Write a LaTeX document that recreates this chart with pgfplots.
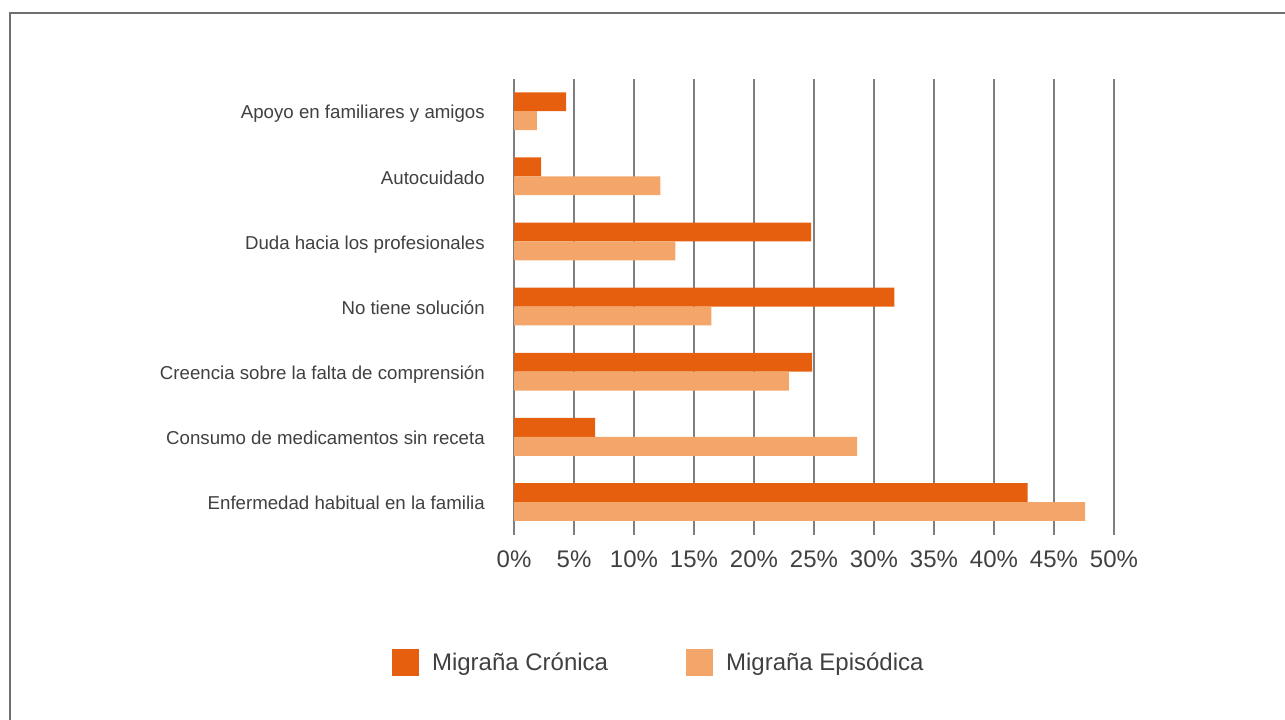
\documentclass[border=0pt]{standalone}
\usepackage{pgfplots}
\pgfplotsset{compat=1.18}
\usepackage{fontspec}
\setmainfont{Liberation Sans}
\definecolor{cronica}{HTML}{E65F0F}
\definecolor{episodica}{HTML}{F4A66A}
\definecolor{txt}{HTML}{404040}
\definecolor{gridc}{HTML}{7F7F7F}
\definecolor{framec}{HTML}{6E6E6E}
\begin{document}
\begin{tikzpicture}
\path[use as bounding box] (0,0) rectangle (963.75pt,-540pt);
\draw[framec, line width=1.1pt] (7.6pt,-545pt) -- (7.6pt,-9.9pt) -- (970pt,-9.9pt);
\begin{axis}[
  at={(385.5pt,-400.95pt)}, anchor=south west,
  scale only axis, width=450pt, height=342pt,
  xmin=0, xmax=50, ymin=-0.5, ymax=6.5,
  xbar, bar width=0.29,
  axis line style={draw=none}, major tick length=0pt, tick style={draw=none},
  xmajorgrids, grid style={gridc, line width=1pt},
  xtick={0,5,...,50},
  xticklabels={0\%,5\%,10\%,15\%,20\%,25\%,30\%,35\%,40\%,45\%,50\%},
  ytick={0,1,2,3,4,5,6},
  yticklabels={Enfermedad habitual en la familia,Consumo de medicamentos sin receta,Creencia sobre la falta de comprensión,No tiene solución,Duda hacia los profesionales,Autocuidado,Apoyo en familiares y amigos},
  xticklabel style={font=\fontsize{18}{20}\selectfont, text=txt, inner sep=0pt, anchor=base, yshift=-25pt},
  yticklabel style={font=\fontsize{14}{16}\selectfont, text=txt, inner sep=0pt, xshift=-21.75pt, yshift=-2.3pt, text height=10pt, text depth=3pt},
  legend columns=2,
  legend style={at={(-0.2033,-0.2815)}, anchor=west, draw=none, fill=none,
    inner sep=0pt, outer sep=0pt,
    font=\fontsize{18}{20}\selectfont, text=txt,
    nodes={inner sep=0pt},
    /tikz/every odd column/.append style={column sep=9.75pt},
    /tikz/every even column/.append style={column sep=58.5pt}},
]
\addplot[fill=cronica, draw=none, bar shift=0.145,
  legend image code/.code={\fill[cronica] (0pt,-10.1pt) rectangle (20.25pt,10.1pt);}]
  coordinates {(42.8,0) (6.75,1) (24.85,2) (31.7,3) (24.75,4) (2.25,5) (4.35,6)};
\addlegendentry{Migraña Crónica}
\addplot[fill=episodica, draw=none, bar shift=-0.145,
  legend image code/.code={\fill[episodica] (0pt,-10.1pt) rectangle (20.25pt,10.1pt);}]
  coordinates {(47.6,0) (28.6,1) (22.9,2) (16.45,3) (13.45,4) (12.2,5) (1.9,6)};
\addlegendentry{Migraña Episódica}
\end{axis}
\end{tikzpicture}
\end{document}
